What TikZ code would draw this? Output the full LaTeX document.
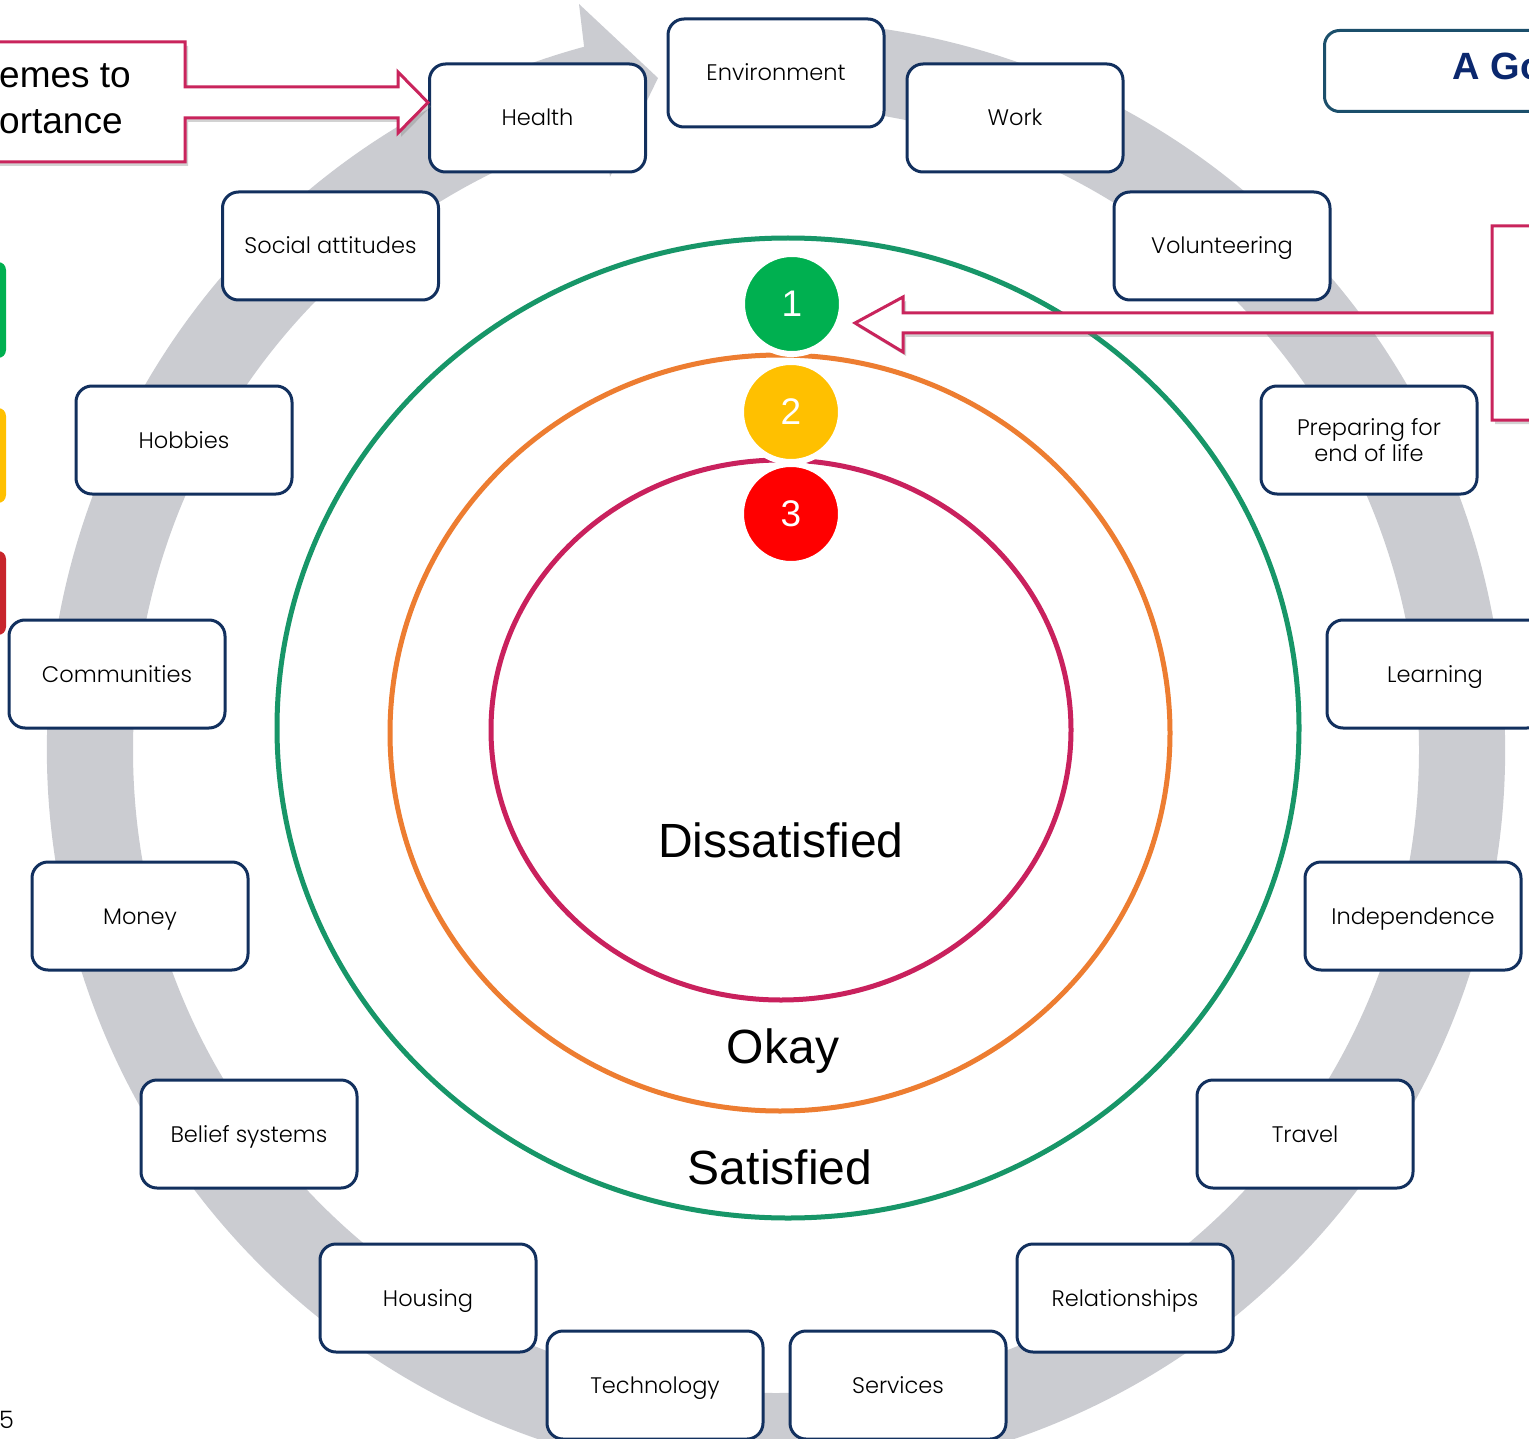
\documentclass[tikz,border=0pt]{standalone}
\usepackage{fontspec}
\setmainfont{Liberation Sans}
\newfontfamily\boxfont{Poppins Light}
\usetikzlibrary{shadows,calc}
\definecolor{navy}{RGB}{18,48,94}
\definecolor{ringgray}{RGB}{203,204,209}
\definecolor{pinkc}{RGB}{201,36,92}
\definecolor{ringgreen}{RGB}{23,150,104}
\definecolor{ringorange}{RGB}{237,125,49}
\definecolor{ringred}{RGB}{201,33,93}
\definecolor{cgreen}{RGB}{0,176,80}
\definecolor{cyellow}{RGB}{255,192,0}
\definecolor{cred}{RGB}{255,0,0}
\definecolor{bred}{RGB}{200,37,43}
\definecolor{titleborder}{RGB}{27,79,107}
\definecolor{titletext}{RGB}{11,40,110}
\begin{document}
\begin{tikzpicture}[x=1pt,y=-1pt,
  theme/.style={draw=navy, line width=3pt, rounded corners=16pt, fill=white,
    minimum width=216pt, minimum height=108pt, inner sep=0pt, align=center,
    text height=16pt, text depth=0pt,
    font=\boxfont\fontsize{22.5}{26}\selectfont},
  themetwo/.style={theme, text height=, text depth=},
  callout/.style={draw=pinkc, line width=3pt, fill=white,
    drop shadow={opacity=0.35, shadow xshift=3pt, shadow yshift=-4pt}},
  level/.style={line width=5pt},
  numdot/.style={circle, draw=white, line width=6pt, minimum size=100pt, inner sep=0pt,
    text=white, font=\fontsize{37}{40}\selectfont},
  ratetext/.style={font=\fontsize{48}{52}\selectfont, anchor=base}
]
\useasboundingbox (0,0) rectangle (1529,1439);
\clip (0,0) rectangle (1529,1439);
\fill[white] (0,0) rectangle (1529,1439);

% grey circular arrow
\coordinate (rc) at (776,750);
\fill[ringgray] ($(rc)+(-105.2:729)$) arc[start angle=-105.2, end angle=-450, radius=729]
   -- ($(rc)+(-450:643)$) arc[start angle=-450, end angle=-105.2, radius=643] -- cycle;
\fill[ringgray] (579,4) -- (658,78) -- (610,177) -- (604,130) -- (584,46) -- cycle;

% left colour bars
\fill[cgreen, rounded corners=8pt] (-30,262) rectangle (6,358);
\fill[cyellow, rounded corners=8pt] (-30,408) rectangle (6,503);
\fill[bred, rounded corners=8pt] (-30,551) rectangle (6,635);

% satisfaction rings
\draw[level, ringgreen] (788,728) ellipse [x radius=511, y radius=490];
\draw[level, ringorange] (780,733) ellipse [x radius=390, y radius=378];
\draw[level, ringred] (781,730) ellipse [x radius=290, y radius=270];

\node[numdot, fill=cgreen] (n1) at (792,304) {1};
\node[numdot, fill=cyellow] (n2) at (791,412) {2};
\node[numdot, fill=cred] (n3) at (791,514) {3};

\node[ratetext] (dis) at (781,857) {Dissatisfied};
\node[ratetext] (okay) at (783,1063) {Okay};
\node[ratetext] (sat) at (780,1184) {Satisfied};

% theme boxes
\node[theme] (health) at (537.5,118) {Health};
\node[theme] (env) at (776,73) {Environment};
\node[theme] (work) at (1015,118) {Work};
\node[theme] (social) at (330.5,246) {Social attitudes};
\node[theme] (vol) at (1222,246) {Volunteering};
\node[theme] (hobbies) at (184,440) {Hobbies};
\node[themetwo] (prep) at (1369,440) {Preparing for\\end of life};
\node[theme] (comm) at (117,674) {Communities};
\node[theme] (learn) at (1435,674) {Learning};
\node[theme] (money) at (140,916) {Money};
\node[theme] (indep) at (1413,916) {Independence};
\node[theme] (belief) at (249,1134) {Belief systems};
\node[theme] (travel) at (1305,1134) {Travel};
\node[theme] (housing) at (428,1298) {Housing};
\node[theme] (rel) at (1125,1298) {Relationships};
\node[theme] (tech) at (655,1385) {Technology};
\node[theme] (serv) at (898,1385) {Services};

% title box
\node[draw=titleborder, line width=3pt, rounded corners=15pt, fill=white,
  minimum width=300pt, minimum height=81pt, anchor=north west] (title) at (1323,29) {};
\node[anchor=base west, text=titletext, font=\bfseries\fontsize{38}{40}\selectfont]
  (titletxt) at (1449,80) {A Go};

% left callout
\draw[callout] (-10,42) -- (185,42) -- (185,87) -- (398,87) -- (398,72) -- (428,102.5)
  -- (398,133) -- (398,118) -- (185,118) -- (185,162) -- (-10,162);
\node[anchor=base west, font=\fontsize{37}{40}\selectfont, inner sep=0pt] (cl1) at (-1,88) {emes to};
\node[anchor=base west, font=\fontsize{37}{40}\selectfont, inner sep=0pt] (cl2) at (-1,134) {ortance};

% right callout
\draw[callout] (1545,226) -- (1492,226) -- (1492,313) -- (903,313) -- (903,297) -- (855,323)
  -- (903,352) -- (903,333) -- (1492,333) -- (1492,420) -- (1545,420);

% page number
\node[anchor=base west, inner sep=0pt, font=\boxfont\fontsize{24}{26}\selectfont] (pg) at (-1,1428) {5};
\end{tikzpicture}
\end{document}
